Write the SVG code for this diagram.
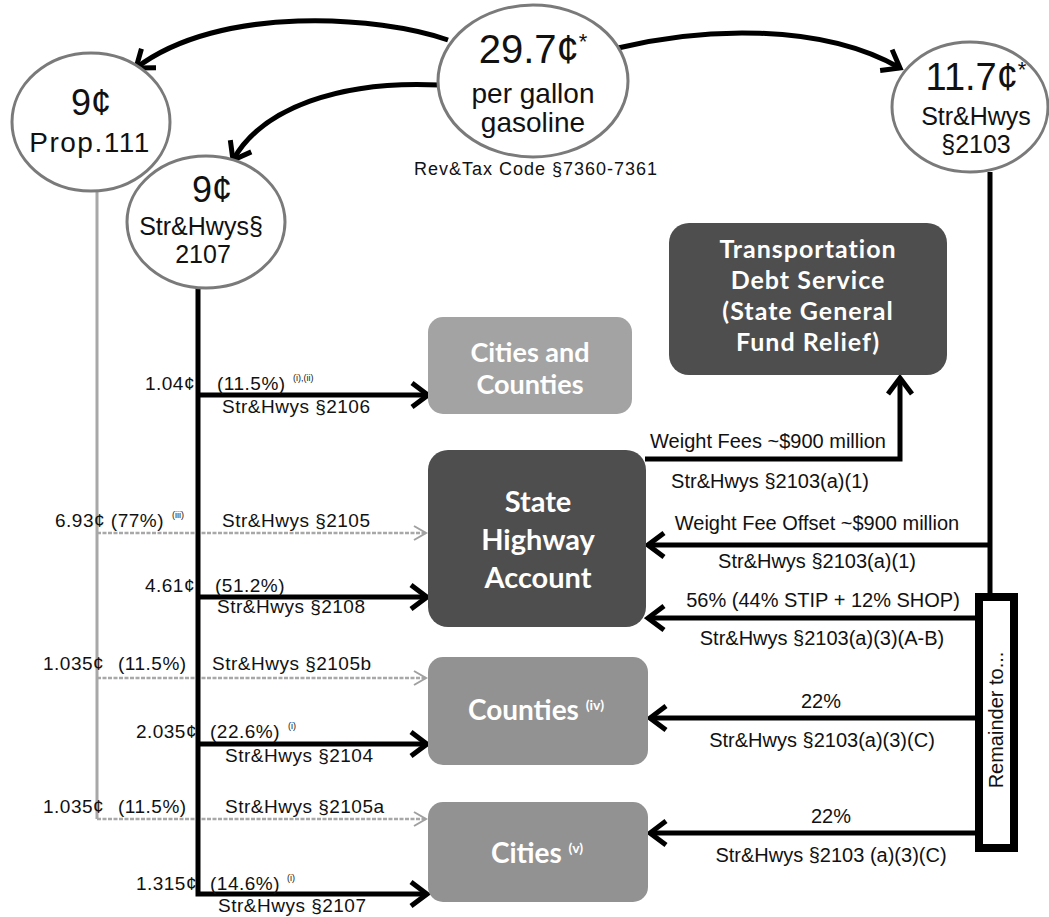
<svg xmlns="http://www.w3.org/2000/svg" width="1049" height="917" viewBox="0 0 1049 917">
<style>
.ell{fill:#fff;stroke:#7a7a7a;stroke-width:3}
.t{font-family:"Liberation Sans",Arial,sans-serif;fill:#111}
.lb{font-family:"Liberation Sans",Arial,sans-serif;font-size:19px;fill:#111;letter-spacing:0.5px}
.rl{font-family:"Liberation Sans",Arial,sans-serif;font-size:20px;fill:#111;text-anchor:middle}
.sup{font-family:"Liberation Sans",Arial,sans-serif;font-size:9px;fill:#111}
.bt{font-family:Lato,"Open Sans",sans-serif;font-weight:700;fill:#fff;text-anchor:middle}
.dark{fill:#4e4e4e}
.mid{fill:#929292}
.light{fill:#a3a3a3}
.bl{fill:none;stroke:#000;stroke-width:5}
.gr{fill:none;stroke:#a8a8a8;stroke-width:3}
.grh{fill:none;stroke:#a8a8a8;stroke-width:2.5;stroke-dasharray:4 1.5}
</style>
<defs>
<marker id="ah" markerUnits="userSpaceOnUse" viewBox="-20 -15 24 30" markerWidth="24" markerHeight="30" refX="0" refY="0" orient="auto">
<path d="M-16,-12 L0,0 L-16,12" fill="none" stroke="#000" stroke-width="5"/>
</marker>
<marker id="ag" markerUnits="userSpaceOnUse" viewBox="-16 -10 20 20" markerWidth="20" markerHeight="20" refX="0" refY="0" orient="auto">
<path d="M-12,-7 L0,0 L-12,7" fill="none" stroke="#a0a0a0" stroke-width="2"/>
</marker>
</defs>

<g id="connectors">
<path class="bl" d="M448,40 C380,16 220,4 136,68" marker-end="url(#ah)"/>
<path class="bl" d="M440,85 C340,80 262,108 233,160" marker-end="url(#ah)"/>
<path class="bl" d="M618,48 C700,28 820,22 900,68" marker-end="url(#ah)"/>
<path class="gr" d="M97,191 V819"/>
<path class="grh" d="M97,819 H426" marker-end="url(#ag)"/>
<path class="grh" d="M97,533 H426" marker-end="url(#ag)"/>
<path class="grh" d="M97,678 H426" marker-end="url(#ag)"/>
<path class="bl" d="M198,288 V894 H427" marker-end="url(#ah)"/>
<path class="bl" d="M198,395 H428" marker-end="url(#ah)"/>
<path class="bl" d="M198,597 H427" marker-end="url(#ah)"/>
<path class="bl" d="M198,744 H427" marker-end="url(#ah)"/>
<path class="bl" d="M990,172 V593"/>
<path class="bl" d="M645,459 H900 V378" marker-end="url(#ah)"/>
<path class="bl" d="M988,545 H648" marker-end="url(#ah)"/>
<path class="bl" d="M975,618 H648" marker-end="url(#ah)"/>
<path class="bl" d="M975,718 H650" marker-end="url(#ah)"/>
<path class="bl" d="M975,833 H650" marker-end="url(#ah)"/>
</g>

<g id="node-gasoline">
<ellipse class="ell" cx="533" cy="81" rx="95" ry="76"/>
<text class="t" x="533" y="63" font-size="40" text-anchor="middle">29.7¢<tspan font-size="22" dy="-14">*</tspan></text>
<text class="t" x="533" y="103" font-size="28" text-anchor="middle">per gallon</text>
<text class="t" x="533" y="132" font-size="28" text-anchor="middle">gasoline</text>
<text class="t" x="536" y="175" font-size="18" text-anchor="middle" letter-spacing="1">Rev&amp;Tax  Code §7360-7361</text>
</g>

<g id="node-prop111">
<ellipse class="ell" cx="91" cy="122" rx="79" ry="69"/>
<text class="t" x="91" y="115" font-size="36" text-anchor="middle">9¢</text>
<text class="t" x="90" y="152" font-size="28" text-anchor="middle" letter-spacing="1.5">Prop.111</text>
</g>

<g id="node-2107">
<ellipse class="ell" cx="206" cy="222" rx="79" ry="66"/>
<text class="t" x="212" y="202" font-size="36" text-anchor="middle">9¢</text>
<text class="t" x="201" y="235" font-size="25" text-anchor="middle">Str&amp;Hwys§</text>
<text class="t" x="203" y="263" font-size="25" text-anchor="middle">2107</text>
</g>

<g id="node-2103">
<ellipse class="ell" cx="970" cy="107" rx="78" ry="65"/>
<text class="t" x="976" y="90" font-size="38" text-anchor="middle">11.7¢<tspan font-size="22" dy="-13">*</tspan></text>
<text class="t" x="976" y="125" font-size="25" text-anchor="middle">Str&amp;Hwys</text>
<text class="t" x="976" y="153" font-size="25" text-anchor="middle">§2103</text>
</g>

<g id="node-debt">
<rect class="dark" x="669" y="223" width="278" height="152" rx="20"/>
<text class="bt" x="808" y="258" font-size="25" letter-spacing="1">Transportation</text>
<text class="bt" x="808" y="289" font-size="25" letter-spacing="1">Debt Service</text>
<text class="bt" x="808" y="320" font-size="25" letter-spacing="1">(State General</text>
<text class="bt" x="808" y="351" font-size="25" letter-spacing="1">Fund Relief)</text>
</g>

<g id="node-cities-counties">
<rect class="light" x="428" y="317" width="204" height="97" rx="15"/>
<text class="bt" x="530" y="362" font-size="27">Cities and</text>
<text class="bt" x="530" y="394" font-size="27">Counties</text>
</g>

<g id="node-sha">
<rect class="dark" x="428" y="450" width="218" height="177" rx="20"/>
<text class="bt" x="538" y="512" font-size="29">State</text>
<text class="bt" x="538" y="550" font-size="29">Highway</text>
<text class="bt" x="538" y="588" font-size="29">Account</text>
</g>

<g id="node-counties">
<rect class="mid" x="428" y="657" width="220" height="108" rx="15"/>
<text class="bt" x="536" y="720" font-size="28">Counties <tspan font-size="14" dy="-10">(iv)</tspan></text>
</g>

<g id="node-cities">
<rect class="mid" x="428" y="802" width="220" height="100" rx="15"/>
<text class="bt" x="537" y="863" font-size="28">Cities <tspan font-size="14" dy="-10">(v)</tspan></text>
</g>

<g id="node-remainder">
<rect x="979" y="597" width="35" height="251" fill="#fff" stroke="#000" stroke-width="8"/>
<text class="t" font-size="20" text-anchor="middle" transform="translate(1003,720) rotate(-90)">Remainder to...</text>
</g>

<g id="labels-left">
<text class="lb" x="195" y="390" text-anchor="end">1.04¢</text>
<text class="lb" x="217" y="390">(11.5%)</text>
<text class="sup" x="293" y="381">(i),(ii)</text>
<text class="lb" x="222" y="413">Str&amp;Hwys §2106</text>
<text class="lb" x="55" y="527">6.93¢ (77%)</text>
<text class="sup" x="172" y="518">(iii)</text>
<text class="lb" x="222" y="527">Str&amp;Hwys §2105</text>
<text class="lb" x="195" y="592" text-anchor="end">4.61¢</text>
<text class="lb" x="215" y="592">(51.2%)</text>
<text class="lb" x="217" y="613">Str&amp;Hwys §2108</text>
<text class="lb" x="43" y="670">1.035¢</text>
<text class="lb" x="118" y="670">(11.5%)</text>
<text class="lb" x="212" y="670">Str&amp;Hwys §2105b</text>
<text class="lb" x="197" y="738" text-anchor="end">2.035¢</text>
<text class="lb" x="210" y="738">(22.6%)</text>
<text class="sup" x="288" y="729">(i)</text>
<text class="lb" x="225" y="762">Str&amp;Hwys §2104</text>
<text class="lb" x="43" y="813">1.035¢</text>
<text class="lb" x="118" y="813">(11.5%)</text>
<text class="lb" x="225" y="813">Str&amp;Hwys §2105a</text>
<text class="lb" x="197" y="890" text-anchor="end">1.315¢</text>
<text class="lb" x="210" y="890">(14.6%)</text>
<text class="sup" x="287" y="881">(i)</text>
<text class="lb" x="218" y="912">Str&amp;Hwys §2107</text>
</g>

<g id="labels-right">
<text class="rl" x="768" y="448">Weight Fees ~$900 million</text>
<text class="rl" x="770" y="488">Str&amp;Hwys §2103(a)(1)</text>
<text class="rl" x="817" y="530">Weight Fee Offset ~$900 million</text>
<text class="rl" x="817" y="568">Str&amp;Hwys §2103(a)(1)</text>
<text class="rl" x="823" y="607">56% (44% STIP + 12% SHOP)</text>
<text class="rl" x="822" y="645">Str&amp;Hwys §2103(a)(3)(A-B)</text>
<text class="rl" x="821" y="708">22%</text>
<text class="rl" x="822" y="747">Str&amp;Hwys §2103(a)(3)(C)</text>
<text class="rl" x="831" y="823">22%</text>
<text class="rl" x="831" y="862">Str&amp;Hwys §2103 (a)(3)(C)</text>
</g>
</svg>
